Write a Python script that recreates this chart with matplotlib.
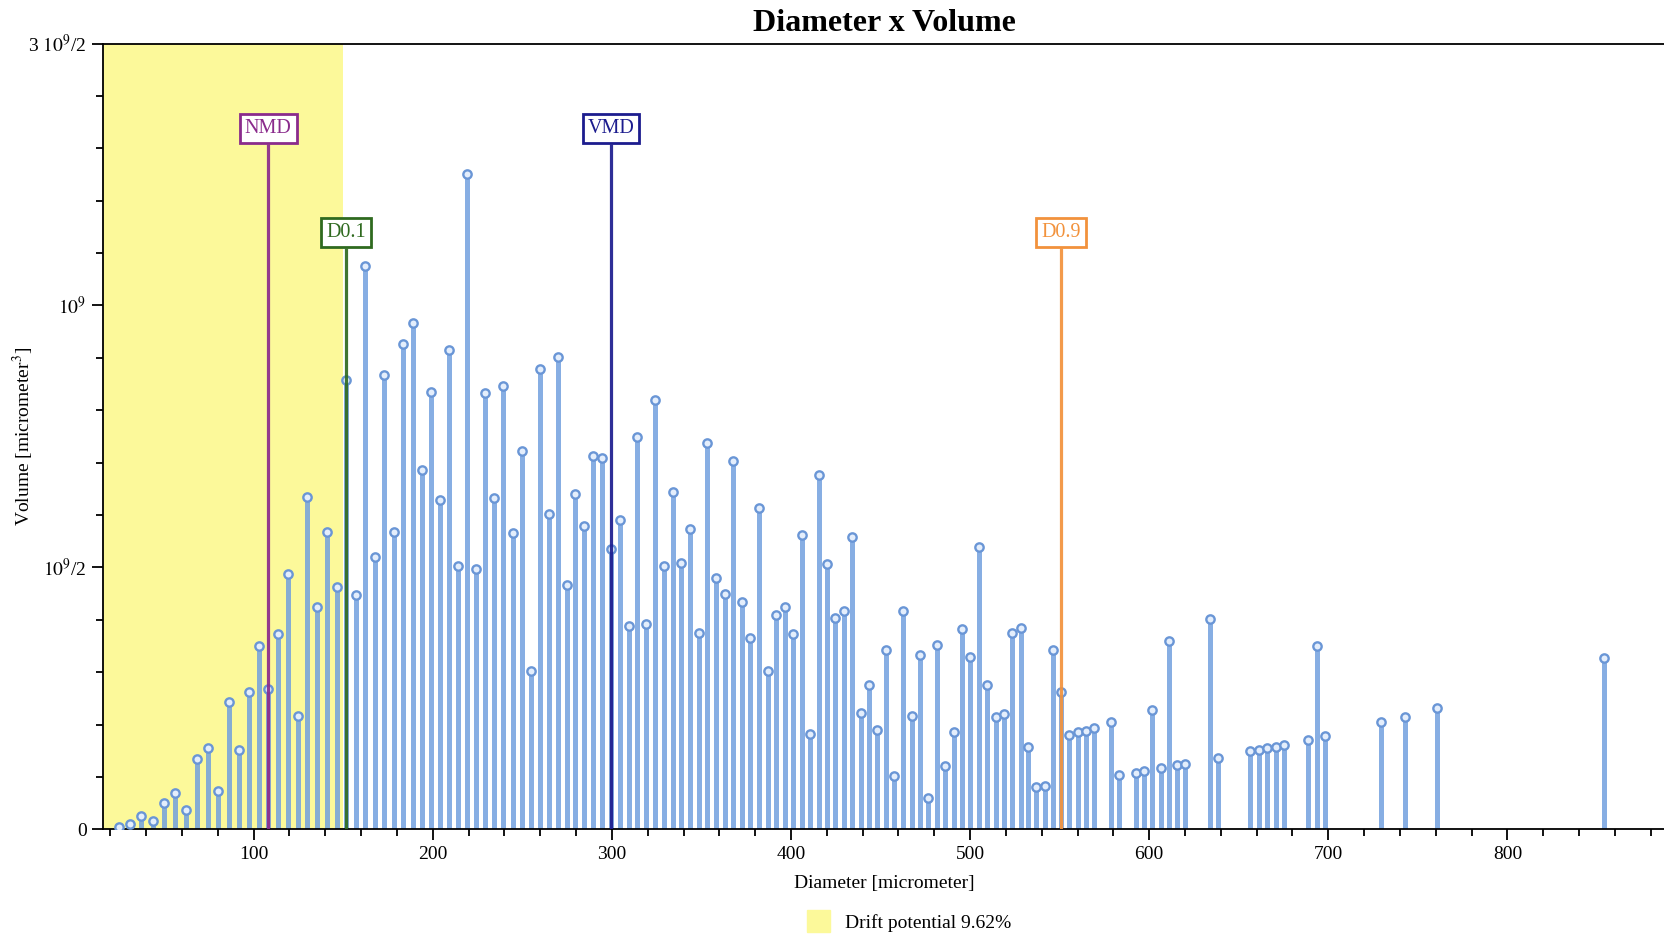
import matplotlib
matplotlib.use("Agg")
import numpy as np
from matplotlib import pyplot as plt
from matplotlib.patches import Patch
from matplotlib.ticker import FixedLocator, MultipleLocator

plt.rcParams['font.family'] = ['Liberation Serif', 'DejaVu Serif']
plt.rcParams['mathtext.fontset'] = 'stix'

# diameters [micrometer]
diameter = [24.7, 31.0, 37.3, 43.6, 49.8, 56.0, 62.2, 68.3, 74.3, 80.2,
            86.0, 91.6, 97.2, 102.7, 108.1, 113.6, 119.0, 124.5, 129.9, 135.4,
            140.8, 146.3, 151.7, 156.9, 162.3, 167.5, 172.9, 178.1, 183.3, 188.7,
            193.8, 198.8, 204.0, 209.0, 214.2, 219.3, 224.3, 229.3, 234.3, 239.4,
            244.6, 249.6, 254.6, 259.6, 264.7, 270.0, 274.8, 279.6, 284.6, 289.4,
            294.6, 299.5, 304.3, 309.3, 314.3, 319.2, 324.2, 329.0, 333.9, 338.7,
            343.5, 348.6, 353.2, 358.1, 362.9, 367.6, 372.4, 377.3, 382.1, 386.9,
            391.8, 396.4, 401.4, 406.1, 410.8, 415.5, 420.1, 424.8, 429.4, 434.1,
            438.9, 443.6, 448.2, 453.0, 457.7, 462.5, 467.4, 472.0, 476.7, 481.5,
            486.2, 490.8, 495.5, 500.1, 505.0, 509.6, 514.3, 518.9, 523.6, 528.2,
            532.6, 537.0, 541.6, 546.2, 550.9, 555.5, 560.1, 564.8, 569.4, 578.8,
            583.4, 592.5, 597.2, 601.8, 606.5, 611.0, 615.4, 619.9, 633.7, 638.4,
            656.4, 661.1, 665.7, 670.6, 675.4, 688.9, 693.5, 698.1, 729.6, 742.6,
            760.7, 853.7]

# volume in units of 1e8 micrometer^3
volume_e8 = [0.05, 0.10, 0.25, 0.15, 0.50, 0.70, 0.36, 1.34, 1.56, 0.74,
             2.43, 1.52, 2.62, 3.49, 2.68, 3.73, 4.87, 2.17, 6.35, 4.24,
             5.67, 4.63, 8.58, 4.47, 10.75, 5.20, 8.68, 5.67, 9.27, 9.66,
             6.85, 8.35, 6.29, 9.15, 5.02, 12.50, 4.96, 8.33, 6.32, 8.47,
             5.66, 7.23, 3.02, 8.78, 6.01, 9.02, 4.66, 6.41, 5.79, 7.12,
             7.09, 5.35, 5.91, 3.88, 7.48, 3.91, 8.20, 5.03, 6.43, 5.08,
             5.73, 3.75, 7.38, 4.80, 4.50, 7.03, 4.34, 3.66, 6.14, 3.03,
             4.09, 4.24, 3.72, 5.61, 1.82, 6.76, 5.06, 4.03, 4.17, 5.58,
             2.22, 2.75, 1.89, 3.42, 1.01, 4.16, 2.16, 3.32, 0.60, 3.52,
             1.20, 1.86, 3.83, 3.29, 5.39, 2.76, 2.14, 2.20, 3.75, 3.85,
             1.58, 0.81, 0.83, 3.42, 2.63, 1.80, 1.85, 1.88, 1.93, 2.04,
             1.04, 1.08, 1.12, 2.28, 1.17, 3.59, 1.22, 1.24, 4.02, 1.36,
             1.49, 1.52, 1.55, 1.58, 1.61, 1.71, 3.49, 1.78, 2.04, 2.15,
             2.31, 3.27]

# reference diameters and the height where their line stops (1e8 units)
ref_names = ['NMD', 'D0.1', 'VMD', 'D0.9']
ref_diam = [108.1, 151.7, 299.5, 550.9]
ref_top = [13.08, 11.1, 13.08, 11.1]
ref_colors = ['#8a2b8c', '#2f6a1f', '#1c1c8e', '#f2923c']

drift_limit = 150
drift_label = 'Drift potential 9.62%'

y_ticks = [0, 5e8, 1e9, 1.5e9]
y_labels = ['0', r'$10^9$/2', r'$10^9$', r'3 $10^9$/2']

x = np.array(diameter)
y = np.array(volume_e8) * 1e8

fig = plt.figure(figsize=(16.65, 9.36), dpi=100)
ax = fig.add_axes([0.062, 0.114, 0.938, 0.8395])

yellow = '#fcf99a'
ax.axvspan(0, drift_limit, color=yellow, zorder=0, lw=0)

stem_col = '#72a0de'
ax.vlines(x, 0, y, color=stem_col, lw=3.6, alpha=0.85, zorder=2)
ax.plot(x, y, 'o', ms=6, mfc='#e4eefc', mec='#6a96d6', mew=1.7, zorder=3)

for name, d, yt, c in zip(ref_names, ref_diam, ref_top, ref_colors):
    ax.vlines(d, 0, yt * 1e8, color=c, lw=2.3, alpha=0.92, zorder=4)
    ax.annotate(name, (d, yt * 1e8), xytext=(0, 4.5), textcoords='offset points',
                color=c, fontsize=14.5, ha='center', va='bottom', zorder=5,
                bbox=dict(boxstyle='square,pad=0.25', fc='white', ec=c, lw=2))

ax.set_xlim(16, 888)
ax.set_ylim(0, 1.5e9)

ax.xaxis.set_major_locator(MultipleLocator(100))
ax.xaxis.set_minor_locator(MultipleLocator(20))
ax.yaxis.set_major_locator(FixedLocator(y_ticks))
ax.yaxis.set_minor_locator(MultipleLocator(1e8))
ax.set_yticklabels(y_labels)

ax.tick_params(axis='both', which='major', direction='out', length=8, width=1.3,
               labelsize=14, pad=4)
ax.tick_params(axis='both', which='minor', direction='out', length=5, width=1.3)

ax.spines['right'].set_visible(False)
for s in ['left', 'bottom', 'top']:
    ax.spines[s].set_linewidth(1.3)

ax.set_xlabel('Diameter [micrometer]', fontsize=14, labelpad=9)
ax.set_ylabel(r'Volume [micrometer$^3$]', fontsize=14)
ax.yaxis.set_label_coords(-0.043, 0.5)
ax.set_title('Diameter x Volume', fontsize=23, fontweight='bold', pad=9)

fig.legend(handles=[Patch(color=yellow, label=drift_label)], loc='lower center',
           bbox_to_anchor=(0.546, -0.014), frameon=False, fontsize=14,
           handlelength=1.2, handleheight=1.3)

fig.savefig('out.png', dpi=100)
